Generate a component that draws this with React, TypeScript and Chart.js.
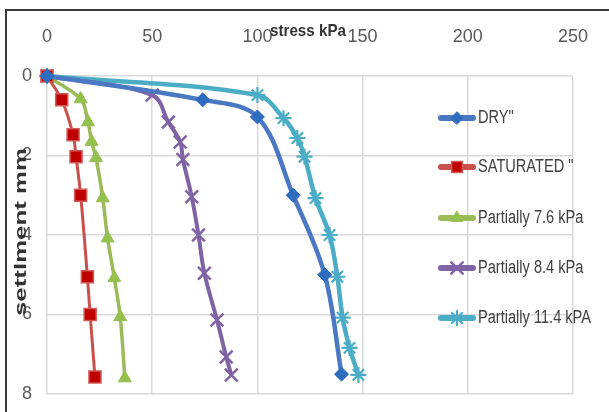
import React, { useEffect, useRef } from "react";
import { Chart, registerables } from "chart.js";
import { drawPoint } from "chart.js/helpers";

Chart.register(...registerables);

const xTicks = [0, 50, 100, 150, 200, 250];
const yTicks = [0, 2, 4, 6, 8];

const seriesNames = ['DRY"', 'SATURATED "', "Partially 7.6 kPa", "Partially 8.4 kPa", "Partially 11.4 kPA"];

const dryStress = [0, 74, 100, 117, 132, 140];
const drySettle = [0, 0.6, 1.03, 3.0, 5.0, 7.5];

const satStress = [0, 7, 12.4, 13.8, 16, 19.2, 20.5, 22.8];
const satSettle = [0, 0.6, 1.48, 2.03, 3.0, 5.05, 6.0, 7.57];

const p76Stress = [0, 16, 19.5, 21.2, 23.3, 26.5, 28.8, 32, 34.8, 37];
const p76Settle = [0, 0.58, 1.16, 1.65, 2.06, 3.07, 4.08, 5.08, 6.06, 7.6];

const p84Stress = [0, 50, 57.7, 63.3, 64.6, 68.8, 72, 74.8, 80.8, 85.2, 87.6];
const p84Settle = [0, 0.48, 1.16, 1.66, 2.1, 3.04, 4.0, 4.96, 6.14, 7.07, 7.52];

const p114Stress = [0, 100, 112.4, 119, 122.4, 127.6, 134.3, 138, 140.5, 143.8, 148];
const p114Settle = [0, 0.48, 1.06, 1.56, 2.03, 3.07, 4.0, 5.05, 6.08, 6.84, 7.52];

const FONT = "'Liberation Sans', Arial, sans-serif";

const styles = [
  { line: "#4A78C2", fill: "#2E6CC0", border: "#2E6CC0", point: "rectRot", radius: 7, lw: 4.5, pbw: 1 },
  { line: "#C9504C", fill: "#C00000", border: "#D05A56", point: "rect", radius: 8.5, lw: 3, pbw: 1.5 },
  { line: "#9BBB59", fill: "#92C24A", border: "#9BBB59", point: "triangle", radius: 7.5, lw: 3.5, pbw: 1 },
  { line: "#7F63A5", fill: "#7F63A5", border: "#7F63A5", point: "crossRot", radius: 9, lw: 4, pbw: 2.5 },
  { line: "#4BACC6", fill: "#4BACC6", border: "#4BACC6", point: "star", radius: 8, lw: 4.5, pbw: 2.2 },
];

const pairs: [number[], number[]][] = [
  [dryStress, drySettle],
  [satStress, satSettle],
  [p76Stress, p76Settle],
  [p84Stress, p84Settle],
  [p114Stress, p114Settle],
];

function fitText(ctx: any, text: string, x: number, y: number, width: number, align: string) {
  const w = ctx.measureText(text).width;
  const s = width / w;
  ctx.save();
  ctx.translate(x, y);
  ctx.scale(s, 1);
  ctx.textAlign = align;
  ctx.fillText(text, 0, 0);
  ctx.restore();
}

const framePlugin = {
  id: "frame",
  beforeDraw(chart: any) {
    const ctx = chart.ctx;
    ctx.save();
    ctx.fillStyle = "#ffffff";
    ctx.fillRect(0, 0, chart.width, chart.height);
    ctx.restore();
  },
  afterDraw(chart: any) {
    const ctx = chart.ctx;
    ctx.save();
    ctx.strokeStyle = "#3a3a3a";
    ctx.lineWidth = 2;
    ctx.beginPath();
    ctx.moveTo(6, chart.height);
    ctx.lineTo(6, 10);
    ctx.lineTo(chart.width, 10);
    ctx.stroke();

    // axis titles
    ctx.fillStyle = "#333333";
    ctx.font = `bold 17px ${FONT}`;
    ctx.textBaseline = "middle";
    fitText(ctx, "stress kPa", 308, 31, 76, "center");
    ctx.translate(21, 232);
    ctx.rotate(-Math.PI / 2);
    fitText(ctx, "settlment mm", 0, 0, 168, "center");
    ctx.restore();

    // legend
    const ys = [118, 167, 218, 268, 318];
    ctx.save();
    ctx.font = `18px ${FONT}`;
    const refW = ctx.measureText(seriesNames[4]).width;
    const sc = 113 / refW;
    styles.forEach((s, i) => {
      const y = ys[i];
      ctx.strokeStyle = s.line;
      ctx.lineWidth = 6;
      ctx.lineCap = "round";
      ctx.beginPath();
      ctx.moveTo(441, y);
      ctx.lineTo(473, y);
      ctx.stroke();
      ctx.fillStyle = s.fill;
      ctx.strokeStyle = s.border;
      ctx.lineWidth = s.pbw;
      drawPoint(ctx, { pointStyle: s.point, radius: s.radius * 0.9, rotation: 0, borderWidth: s.pbw } as any, 457, y);
      ctx.fillStyle = "#404040";
      ctx.textBaseline = "middle";
      const w = ctx.measureText(seriesNames[i]).width * sc;
      fitText(ctx, seriesNames[i], 478, y, w, "left");
    });
    ctx.restore();
  },
};

export default function App() {
  const ref = useRef<HTMLCanvasElement | null>(null);
  useEffect(() => {
    if (!ref.current) return;
    const datasets = pairs.map(([xs, ys], i) => {
      const s = styles[i];
      return {
        label: seriesNames[i],
        data: xs.map((x, k) => ({ x, y: ys[k] })),
        showLine: true,
        borderColor: s.line,
        borderWidth: s.lw,
        backgroundColor: s.fill,
        pointBackgroundColor: s.fill,
        pointBorderColor: s.border,
        pointBorderWidth: s.pbw,
        pointStyle: s.point,
        pointRadius: s.radius,
        tension: 0.35,
        clip: false as any,
      };
    });
    const chart = new Chart(ref.current, {
      type: "scatter",
      data: { datasets: datasets as any },
      options: {
        animation: false,
        responsive: false,
        layout: { padding: { left: 0, top: 0, right: 36, bottom: 18 } },
        plugins: { legend: { display: false }, tooltip: { enabled: false } },
        scales: {
          x: {
            type: "linear",
            position: "top",
            min: 0,
            max: 250,
            afterBuildTicks: (scale: any) => {
              scale.ticks = xTicks.map((v) => ({ value: v }));
            },
            afterFit: (scale: any) => {
              scale.height = 76;
              scale.paddingLeft = 0;
              scale.paddingRight = 0;
            },
            grid: { color: "#D9D9D9", lineWidth: 1.5, drawTicks: false },
            border: { display: false },
            ticks: {
              padding: 28,
              color: "#595959",
              font: { family: FONT, size: 18 },
              maxRotation: 0,
            },
          },
          y: {
            type: "linear",
            reverse: true,
            min: 0,
            max: 8,
            afterBuildTicks: (scale: any) => {
              scale.ticks = yTicks.map((v) => ({ value: v }));
            },
            afterFit: (scale: any) => {
              scale.width = 47;
              scale.paddingTop = 0;
              scale.paddingBottom = 0;
            },
            grid: { color: "#D9D9D9", lineWidth: 1.5, drawTicks: false },
            border: { display: false },
            ticks: {
              padding: 15,
              color: "#595959",
              font: { family: FONT, size: 18 },
            },
          },
        },
      },
      plugins: [framePlugin],
    });
    return () => chart.destroy();
  }, []);
  return (
    <div style={{ position: "fixed", left: 0, top: 0, width: 609, height: 412, background: "#fff" }}>
      <canvas ref={ref} width={609} height={412} style={{ display: "block" }} />
    </div>
  );
}
